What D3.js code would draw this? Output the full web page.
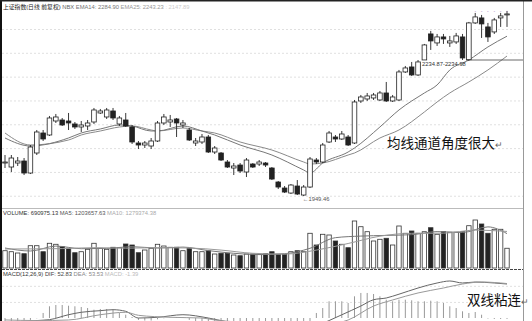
<!DOCTYPE html>
<html>
<head>
<meta charset="utf-8">
<script src="https://cdn.jsdelivr.net/npm/d3@7"></script>
<style>
body { margin: 0; background: #fff; }
svg { display: block; }
text { font-family: "Liberation Sans", "Noto Sans CJK SC", sans-serif; }
.cjk { font-family: "Noto Sans CJK SC", sans-serif; }
</style>
</head>
<body>
<svg id="chart" width="532" height="321"></svg>
<script>
// daily candles (index 0 = first bar on the left)
var opens = [2018.7,2010.3,2018.7,2022.9,1997.7,2039.7,2081.7,2077.5,2106.9,2109,
  2106.9,2100.6,2094.3,2096.4,2104.8,2123.7,2115.3,2127.9,2100.6,2109,
  2094.3,2060.7,2056.5,2054.4,2064.9,2102.7,2104.8,2111.1,2098.5,2088,
  2060.7,2062.8,2073.3,2041.8,2039.7,2020.8,2008.2,2014.5,1999.8,2016.6,
  2016.6,2018.7,2008.2,1978.8,1966.2,1955.7,1970.4,1951.5,1968.3,2025,
  2020.8,2062.8,2073.3,2069.1,2073.3,2060.7,2148.9,2153.1,2155.2,2151,
  2165.7,2148.9,2151,2209.8,2220.3,2203.5,2235,2289.6,2270.7,2283.3,
  2270.7,2272.8,2283.3,2235.5,2312.7,2323.2,2304.3,2293.8,2323.2,2329.5];
var highs = [2035.5,2035.5,2031.3,2029.2,2056.5,2088,2088,2117.4,2121.6,2113.2,
  2123.7,2104.8,2106.9,2109,2134.2,2132.1,2134.2,2134.2,2117.4,2123.7,
  2098.5,2064.9,2064.9,2071.2,2106.9,2121.6,2119.5,2113.2,2109,2092.2,
  2071.2,2079.6,2077.5,2054.4,2041.8,2025,2018.7,2018.7,2029.2,2018.7,
  2025,2020.8,2010.3,1980.9,1970.4,1974.6,1983,1972.5,2031.3,2029.2,
  2060.7,2085.9,2077.5,2085.9,2077.5,2151,2161.5,2165.7,2165.7,2169.9,
  2188.8,2161.5,2214,2222.4,2230.8,2234.87,2268.6,2295.9,2289.6,2289.6,
  2285.4,2291.7,2289.6,2314.8,2333.7,2329.5,2312.7,2323.2,2333.7,2337.9];
var lows = [2008.2,1999.8,2012.4,1993.5,1995.6,2035.5,2064.9,2075.4,2102.7,2096.4,
  2088,2090.1,2083.8,2088,2100.6,2121.6,2111.1,2109,2096.4,2094.3,
  2058.6,2048.1,2050.2,2048.1,2062.8,2098.5,2094.3,2073.3,2092.2,2064.9,
  2054.4,2058.6,2039.7,2037.6,2022.9,2008.2,1993.5,1997.7,1989.3,2008.2,
  2012.4,2010.3,1983,1964.1,1955.7,1953.6,1951.5,1949.46,1966.2,2016.6,
  2018.7,2060.7,2062.8,2067,2054.4,2058.6,2144.7,2148.9,2151,2148.9,
  2146.8,2146.8,2148.9,2207.7,2201.4,2201.4,2234.98,2256,2264.4,2268.6,
  2262.3,2268.6,2235,2232.9,2310.6,2281.2,2272.8,2289.6,2304.3,2304.3];
var closes = [2020.8,2029.2,2022.9,1997.7,2052.3,2083.8,2069.1,2113.2,2115.3,2098.5,
  2102.7,2094.3,2098.5,2102.7,2130,2127.9,2130,2113.2,2113.2,2096.4,
  2062.8,2056.5,2060.7,2064.9,2102.7,2115.3,2109,2102.7,2102.7,2067,
  2064.9,2073.3,2041.8,2050.2,2025,2010.3,2012.4,2001.9,2025,2010.3,
  2020.8,2014.5,1985.1,1968.3,1957.8,1972.5,1953.6,1968.3,2027.1,2020.8,
  2056.5,2081.7,2069.1,2079.6,2056.5,2146.8,2157.3,2159.4,2161.5,2165.7,
  2148.9,2157.3,2209.8,2218.2,2203.5,2230.8,2266.5,2274.9,2283.3,2279.1,
  2274.9,2285.4,2239.2,2312.7,2325.3,2310.6,2283.3,2319,2327.4,2331.6];
var volumes = [605000,570000,525000,500000,780000,780000,570000,865000,830000,745000,
  690000,535000,570000,655000,865000,690000,655000,725000,710000,840000,
  805000,535000,630000,690000,830000,770000,725000,725000,605000,690000,
  570000,570000,605000,490000,515000,515000,455000,430000,490000,490000,
  480000,500000,570000,480000,480000,570000,605000,570000,1215000,805000,
  1180000,1155000,945000,830000,710000,1645000,1445000,1270000,945000,1005000,
  1040000,805000,1470000,1215000,1295000,1215000,1270000,1410000,1180000,1270000,
  1250000,1250000,1270000,1480000,1680000,1540000,1215000,1355000,1355000,690975.13];
var macdHist = [-6,-5,-5,-4,-3,-0.5,
  7.8,18.2,20.2,20.2,19.1,18.2,17.1,15.5,12.9,14,14,12.9,7.8,5.1,1.6,
  -3,-4,-4,-2,-0.5,0.8,1.5,1.2,
  -3,-5,-6,-7,-8,-9,-10,-10,-11,-11,-10,-10,-9,-9,-9,-10,-10,-9,-7,-5,
  7.8,15.5,26,26,26,23.3,33.7,38.9,38.9,37.3,33.7,28.4,26,28.4,28.4,27.5,
  26,26,26.9,26,23.3,18.2,15.5,10.4,7.8,9.3,5.1,-0.8,-1.5,-1.6,-1.39];

// indicator lines, read at a few bars each
var emaIdx = [0,4,10,12,15,18,20,23,24,28,31,33,37,42,47,48,50,54,55,59,62,66,68,70,73,76,79];
var ema14 = [2071.2,2054.4,2071.2,2081.7,2090.1,2098.5,2096.4,2085.9,2085.9,2096.4,2085.9,2077.5,2056.5,
  2035.5,2004,1997.7,2018.7,2041.8,2050.2,2094.3,2130,2165.7,2182.5,2214,2235,2262.3,2284.9];
var ema25 = [2081.7,2056.5,2067,2077.5,2085.9,2094.3,2096.4,2088,2085.9,2092.2,2085.9,2081.7,2062.8,
  2046,2020.8,2016.6,2018.7,2035.5,2039.7,2071.2,2088,2125.8,2146.8,2165.7,2188.8,2214,2243.23];
var ma5Idx = [0,4,8,12,16,20,24,28,32,36,40,44,48,52,56,60,64,68,72,76,79];
var ma5 = [700000,595000,767000,676000,686000,746000,697000,732000,609000,515000,469000,
  501000,690000,1061000,1117000,1141000,1166000,1274000,1243000,1439000,1203657.63];
var ma10Idx = [0,9,14,19,24,29,34,39,44,49,54,59,64,69,74,79];
var ma10 = [665000,679000,711000,693000,711000,700000,627000,515000,487000,627000,858000,
  1113000,1215000,1218000,1327000,1279374.38];
var difIdx = [0,3,5,7,10,12,15,17,19,21,24,28,32,35,40,44,47,49,51,53,56,58,60,62,65,68,70,72,74,77,79];
var dif = [-8,-7,-4,-2.6,5.1,8.9,11.4,12.9,10.4,0,1.1,5.1,0,-6,-12,-14,-17,-12,-4,5,
  18.6,28.4,31.1,37,46.6,54.4,57.5,54.4,55.9,54.4,52.83];
var deaIdx = [0,5,10,15,19,21,26,31,33,38,44,47,49,51,54,58,61,65,69,72,75,79];
var dea = [-3,-4,-3.1,5.1,8.9,4.2,1.1,0,-3.1,-7,-11,-13,-13,-10,-3.1,18.6,28,38.9,46.6,52.8,55.9,53.53];

var priceTicks = [1950,2000,2050,2100,2150,2200,2250,2300];
var macdTicks = [25,50];

var W = 532, H = 321;
var svg = d3.select("#chart");

var x = d3.scaleLinear().domain([0, opens.length - 1]).range([5, 507]);
var y = d3.scaleLinear().domain([1949.46, 2234.9]).range([196, 60]);
var yv = d3.scaleLinear().domain([0, 1680000]).range([268, 220]);
var ym = d3.scaleLinear().domain([0, 52.83]).range([318, 284]);

var bars = opens.map(function(o, i) {
  return {i: i, o: o, h: highs[i], l: lows[i], c: closes[i], v: volumes[i], m: macdHist[i], up: closes[i] >= o};
});

svg.append("rect").attr("width", W).attr("height", H).attr("fill", "#fff");

svg.append("clipPath").attr("id", "macdClip")
  .append("rect").attr("x", 2).attr("y", 270).attr("width", 521).attr("height", 51);

// grid
function grid(scale, ticks) {
  var g = svg.append("g").attr("transform", "translate(2,0)")
    .call(d3.axisRight(scale).tickValues(ticks).tickSize(521).tickFormat(""));
  g.select(".domain").remove();
  g.selectAll("line").attr("stroke", "#e0e0e0").attr("stroke-dasharray", "2,2");
  return g;
}
grid(y, priceTicks);
grid(ym, macdTicks);

// panel lines
svg.append("line").attr("x1", 2).attr("x2", 523).attr("y1", 208.5).attr("y2", 208.5).attr("stroke", "#bbb");
svg.append("line").attr("x1", 2).attr("x2", 523).attr("y1", 269.5).attr("y2", 269.5)
  .attr("stroke", "#444").attr("stroke-dasharray", "3,1");
svg.append("line").attr("x1", 523.5).attr("x2", 523.5).attr("y1", 0).attr("y2", H).attr("stroke", "#999");
svg.append("rect").attr("x", 0).attr("y", 0).attr("width", 2).attr("height", H).attr("fill", "#111");
svg.append("rect").attr("x", 0).attr("y", 0).attr("width", W).attr("height", 1.5).attr("fill", "#222");

function candles(g, data) {
  var c = g.selectAll("g.candle").data(data, function(d) { return d.i; });
  c.exit().remove();
  var ce = c.enter().append("g").attr("class", "candle");
  ce.append("line")
    .attr("x1", function(d) { return x(d.i); }).attr("x2", function(d) { return x(d.i); })
    .attr("y1", function(d) { return y(d.h); }).attr("y2", function(d) { return y(d.l); })
    .attr("stroke", "#222").attr("stroke-width", 0.9);
  ce.append("rect")
    .attr("x", function(d) { return x(d.i) - 2.3; })
    .attr("width", 4.6)
    .attr("y", function(d) { return y(Math.max(d.o, d.c)); })
    .attr("height", function(d) { return Math.max(1, Math.abs(y(d.o) - y(d.c))); })
    .attr("fill", function(d) { return d.up ? "#fff" : "#222"; })
    .attr("stroke", "#222").attr("stroke-width", 0.8);
}

function volumeBars(g, data) {
  var b = g.selectAll("rect").data(data, function(d) { return d.i; });
  b.exit().remove();
  b.enter().append("rect")
    .attr("x", function(d) { return x(d.i) - 2.2; })
    .attr("width", 4.4)
    .attr("y", function(d) { return yv(d.v); })
    .attr("height", function(d) { return yv(0) - yv(d.v); })
    .attr("fill", function(d) { return d.up ? "#fff" : "#222"; })
    .attr("stroke", "#333").attr("stroke-width", 0.8);
}

function histBars(g, data) {
  var b = g.selectAll("line").data(data, function(d) { return d.i; });
  b.exit().remove();
  b.enter().append("line")
    .attr("x1", function(d) { return x(d.i); }).attr("x2", function(d) { return x(d.i); })
    .attr("y1", ym(0)).attr("y2", function(d) { return ym(d.m); })
    .attr("stroke", "#999").attr("stroke-width", 1);
}

function curve(g, idx, vals, scale, color) {
  var line = d3.line()
    .x(function(d) { return x(d[0]); })
    .y(function(d) { return scale(d[1]); })
    .curve(d3.curveMonotoneX);
  g.append("path").datum(d3.zip(idx, vals))
    .attr("d", line).attr("fill", "none")
    .attr("stroke", color).attr("stroke-width", 1);
}

var pricePanel = svg.append("g");
curve(pricePanel, emaIdx, ema25, y, "#8a8a8a");
curve(pricePanel, emaIdx, ema14, y, "#777");
pricePanel.call(candles, bars);

var volPanel = svg.append("g");
volPanel.call(volumeBars, bars);
curve(volPanel, ma5Idx, ma5, yv, "#777");
curve(volPanel, ma10Idx, ma10, yv, "#999");

var macdPanel = svg.append("g").attr("clip-path", "url(#macdClip)");
macdPanel.call(histBars, bars);
curve(macdPanel, difIdx, dif, ym, "#666");
curve(macdPanel, deaIdx, dea, ym, "#999");

// titles
function title(yPos, parts) {
  var t = svg.append("text").attr("x", 3).attr("y", yPos).attr("font-size", 5.8);
  t.selectAll("tspan").data(parts).enter().append("tspan")
    .attr("fill", function(d) { return d[1]; })
    .text(function(d) { return d[0]; });
}
title(9, [["上证指数(日线 前复权) ", "#222"], ["NBX ", "#666"], ["EMA14: 2284.90 ", "#777"],
  ["EMA25: 2243.23 ", "#999"], [": 2147.89", "#ccc"]]);
title(215, [["VOLUME: 690975.13 ", "#333"], ["MA5: 1203657.63 ", "#555"], ["MA10: 1279374.38", "#aaa"]]);
title(276, [["MACD(12,26,9) ", "#333"], ["DIF: 52.83 ", "#444"], ["DEA: 53.53 ", "#888"], ["MACD: -1.39", "#bbb"]]);

// gap line and price labels
svg.append("line").attr("x1", 466).attr("x2", 523).attr("y1", y(2234.9)).attr("y2", y(2234.9))
  .attr("stroke", "#444").attr("stroke-width", 0.8);
svg.append("text").attr("x", 422).attr("y", y(2234.9) + 5.5).attr("font-size", 5.8).attr("fill", "#333")
  .text("2234.87-2234.98");
svg.append("text").attr("x", x(47) - 1).attr("y", y(1949.46) + 4.5).attr("font-size", 5.8).attr("fill", "#555")
  .text("←1949.46");

// small marks over the last highs
svg.append("g").selectAll("text").data(bars.slice(74)).enter().append("text")
  .attr("x", function(d) { return x(d.i); }).attr("y", 13)
  .attr("text-anchor", "middle").attr("font-size", 5).attr("fill", "#a070b8")
  .text("-");

// notes
function note(xPos, yPos, str) {
  var t = svg.append("text").attr("class", "cjk").attr("x", xPos).attr("y", yPos)
    .attr("font-size", 13.5).attr("fill", "#111");
  t.append("tspan").text(str);
  t.append("tspan").attr("font-size", 9).attr("fill", "#666").text("↵");
}
note(387, 148, "均线通道角度很大");
note(467, 305, "双线粘连");
</script>
</body>
</html>
